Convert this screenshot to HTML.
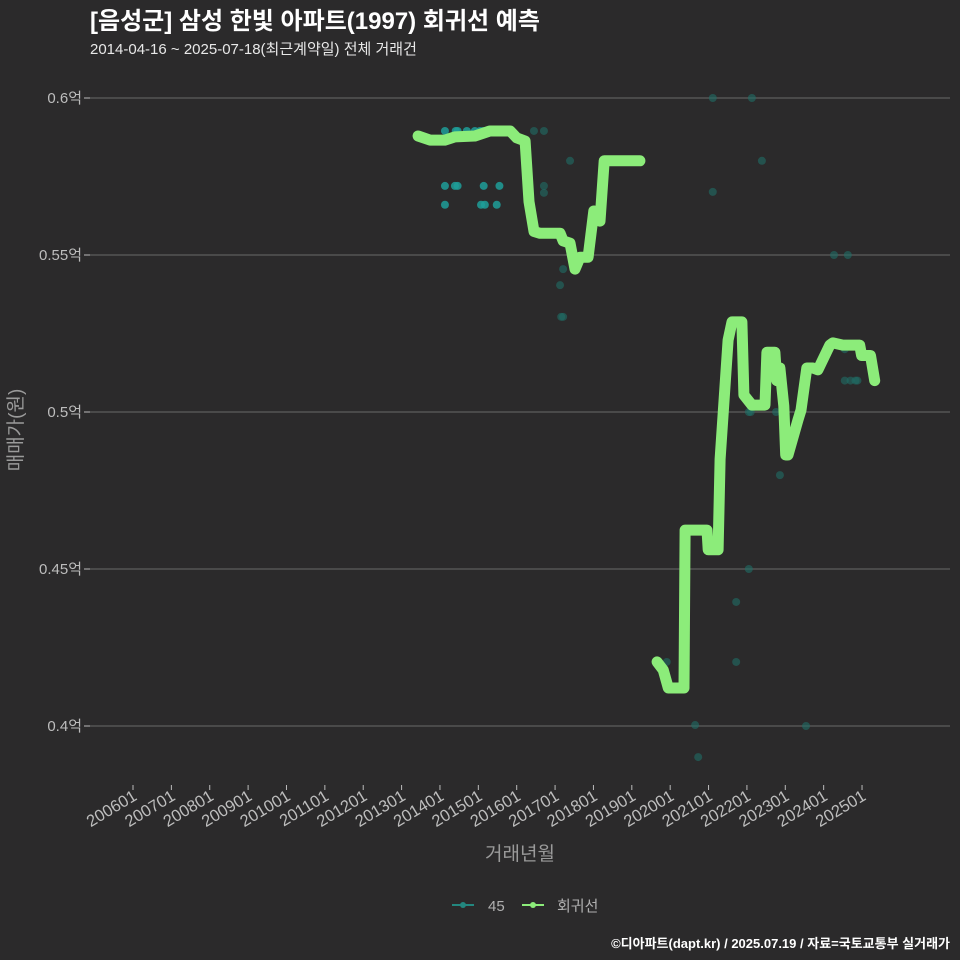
<!DOCTYPE html>
<html><head><meta charset="utf-8"><style>
body{margin:0;background:#2b2a2b;}
svg{display:block;font-family:"Liberation Sans","Noto Sans CJK KR",sans-serif;}
</style></head><body>
<svg id="chart" width="960" height="960">
<rect width="960" height="960" fill="#2b2a2b"/>
<text x="90" y="29" fill="#ffffff" font-size="24" font-weight="bold">[음성군] 삼성 한빛 아파트(1997) 회귀선 예측</text>
<text x="90" y="54" fill="#e8e8e8" font-size="15">2014-04-16 ~ 2025-07-18(최근계약일) 전체 거래건</text>
<g id="grid"></g><g id="pts"></g><g id="line"></g><g id="axes"></g>
<text x="0" y="0" transform="translate(22,430) rotate(-90)" text-anchor="middle" fill="#9a9a9a" font-size="19">매매가(원)</text>
<text x="520" y="860" text-anchor="middle" fill="#9a9a9a" font-size="19">거래년월</text>
<g>
<g><line x1="452" y1="905" x2="474" y2="905" stroke="#23877f" stroke-width="2"/><circle cx="463" cy="905" r="3" fill="#23877f"/><text x="488" y="911" fill="#b0b0b0" font-size="15">45</text></g>
<g><line x1="522" y1="905" x2="544" y2="905" stroke="#8cec7a" stroke-width="2"/><circle cx="533" cy="905" r="3" fill="#8cec7a"/><text x="557" y="911" fill="#b0b0b0" font-size="15">회귀선</text></g>
</g>
<text x="950" y="948" text-anchor="end" fill="#ffffff" font-size="13" font-weight="bold">©디아파트(dapt.kr) / 2025.07.19 / 자료=국토교통부 실거래가</text>
</svg>
<script>
const yTicks=[0.4,0.45,0.5,0.55,0.6];
const yTickLabels=["0.4억","0.45억","0.5억","0.55억","0.6억"];
const xTickYears=[2006,2007,2008,2009,2010,2011,2012,2013,2014,2015,2016,2017,2018,2019,2020,2021,2022,2023,2024,2025];
const lineT1=[2013.43,2013.74,2014.13,2014.39,2014.91,2015.30,2015.83,2016.0,2016.22,2016.32,2016.45,2016.61,2017.13,2017.21,2017.39,2017.52,2017.65,2017.86,2018.01,2018.17,2018.28,2019.21];
const lineV1=[0.5879,0.5866,0.5866,0.5876,0.5879,0.5895,0.5895,0.5873,0.5863,0.567,0.5575,0.5569,0.5569,0.5545,0.5538,0.5455,0.5493,0.5493,0.5640,0.5608,0.5800,0.5800];
const lineT2=[2019.66,2019.82,2019.95,2020.36,2020.39,2020.96,2020.99,2021.25,2021.30,2021.51,2021.61,2021.87,2021.92,2022.13,2022.47,2022.52,2022.73,2022.78,2022.86,2022.96,2023.01,2023.07,2023.33,2023.41,2023.56,2023.72,2023.85,2024.16,2024.24,2024.50,2024.68,2024.94,2024.99,2025.22,2025.33];
const lineV2=[0.4204,0.4178,0.4121,0.4121,0.4624,0.4624,0.4561,0.4561,0.485,0.5229,0.5287,0.5287,0.5054,0.5022,0.5022,0.519,0.519,0.510,0.5140,0.5019,0.4863,0.4863,0.4975,0.5006,0.514,0.514,0.5134,0.5213,0.522,0.5213,0.5213,0.5213,0.518,0.518,0.510];
const ptT=[2014.13,2014.41,2014.46,2014.91,2015.04,2015.12,2015.25,2014.70,2014.13,2014.39,2014.46,2015.14,2015.55,2016.45,2016.71,2016.71,2016.71,2014.13,2015.07,2015.17,2015.48,2017.39,2017.21,2017.13,2017.16,2017.21,2021.11,2022.13,2021.11,2022.39,2019.91,2020.65,2020.73,2021.72,2021.72,2022.05,2022.05,2022.10,2022.86,2022.76,2023.54,2024.27,2024.63,2024.55,2024.70,2024.83,2024.88,2024.55];
const ptV=[0.5895,0.5895,0.5895,0.5895,0.5895,0.5895,0.5895,0.5895,0.5720,0.5720,0.5720,0.5720,0.5720,0.5895,0.5895,0.5720,0.5698,0.5660,0.5660,0.5660,0.5660,0.5800,0.5455,0.5404,0.5303,0.5303,0.6,0.6,0.5701,0.5800,0.4204,0.4003,0.3901,0.4395,0.4204,0.45,0.5,0.5,0.4799,0.5,0.4,0.55,0.55,0.51,0.51,0.51,0.51,0.52];
const NS="http://www.w3.org/2000/svg";
const X0=90,X1=950;
function xs(t){return 133+(t-2006)*38.37;}
function ys(v){return 412-(v-0.5)*3140;}
function mk(tag,attrs,parent){const e=document.createElementNS(NS,tag);for(const k in attrs)e.setAttribute(k,attrs[k]);parent.appendChild(e);return e;}
const grid=document.getElementById('grid'),axes=document.getElementById('axes');
yTicks.forEach((v,i)=>{
 const g=mk('line',{x1:X0,x2:X1,y1:ys(v),y2:ys(v),stroke:'#6a6a6a','stroke-width':1},grid);
 
 
 const tk=mk('line',{x1:84,x2:90,y1:ys(v),y2:ys(v),stroke:'#bbb','stroke-width':1},axes);
 
 
 const t=mk('text',{x:82,y:ys(v)+5,'text-anchor':'end',fill:'#bdbdbd','font-size':15},axes);
 t.textContent=yTickLabels[i];
 
 
});
xTickYears.forEach(yr=>{
 const x=xs(yr);
 const tk=mk('line',{x1:x,x2:x,y1:785,y2:790,stroke:'#bbb','stroke-width':1},axes);
 
 
 const t=mk('text',{x:0,y:0,'text-anchor':'end',fill:'#bdbdbd','font-size':16.5,transform:`translate(${x+5},${799}) rotate(-31)`},axes);
 t.textContent=yr+'01';
 
 
});
const pts=document.getElementById('pts');
ptT.forEach((t,i)=>{
 const early=t<2016;
 const c=mk('circle',{cx:xs(t),cy:ys(ptV[i]),r:4,fill:early?'#1f9e99':'#1f6e66','fill-opacity':early?0.85:0.6},pts);
 
 
});
const lg=document.getElementById('line');
[[lineT1,lineV1],[lineT2,lineV2]].forEach(([T,V])=>{
 const d=T.map((t,i)=>(i?'L':'M')+xs(t).toFixed(1)+','+ys(V[i]).toFixed(1)).join(' ');
 const p=mk('path',{d:d,fill:'none',stroke:'#8cec7a','stroke-width':11,'stroke-linejoin':'round','stroke-linecap':'round'},lg);
 
 
});
</script>
</body></html>
